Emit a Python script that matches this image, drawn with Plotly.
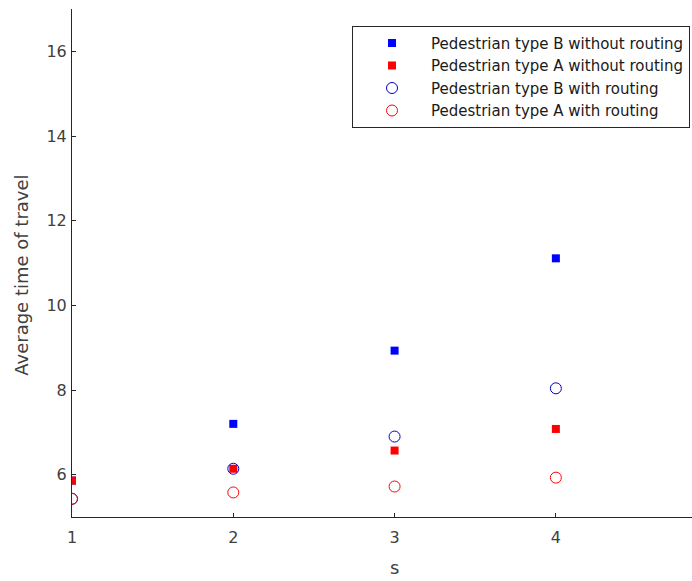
import plotly.graph_objects as go

s = [1, 2, 3, 4]
b_without = [5.86, 7.2, 8.93, 11.11]
a_without = [5.86, 6.14, 6.57, 7.08]
b_with = [5.43, 6.14, 6.90, 8.04]
a_with = [5.43, 5.58, 5.72, 5.93]

FONT = "DejaVu Sans, Liberation Sans, Arial, sans-serif"

fig = go.Figure()
fig.add_trace(go.Scatter(x=s, y=b_without, mode="markers", name="Pedestrian type B without routing",
                         marker=dict(symbol="square", size=8, color="#0000ff", line=dict(width=0))))
fig.add_trace(go.Scatter(x=s, y=a_without, mode="markers", name="Pedestrian type A without routing",
                         marker=dict(symbol="square", size=8, color="#ff0000", line=dict(width=0))))
fig.add_trace(go.Scatter(x=s, y=b_with, mode="markers", name="Pedestrian type B with routing",
                         marker=dict(symbol="circle-open", size=11, color="#0000cc", line=dict(width=1))))
fig.add_trace(go.Scatter(x=s, y=a_with, mode="markers", name="Pedestrian type A with routing",
                         marker=dict(symbol="circle-open", size=11, color="#ff0000", line=dict(width=1))))

fig.update_layout(
    width=692, height=581,
    margin=dict(l=72, r=0, t=9, b=63.5),
    plot_bgcolor="white", paper_bgcolor="white",
    font=dict(family=FONT, size=16, color="#404040"),
    showlegend=True,
    legend=dict(x=0.9968, y=0.967, xanchor="right", yanchor="top",
                bordercolor="#262626", borderwidth=1, bgcolor="white",
                font=dict(family=FONT, size=15, color="#1a1a1a"), tracegroupgap=0,
                itemwidth=68),
    xaxis=dict(range=[1, 4.844], tickvals=[1, 2, 3, 4], showline=True, linecolor="#262626",
               linewidth=1, ticks="inside", ticklen=4, tickcolor="#262626",
               showgrid=False, zeroline=False, automargin=False, ticklabelstandoff=6),
    yaxis=dict(range=[5, 17], tickvals=[6, 8, 10, 12, 14, 16], showline=True, linecolor="#262626",
               linewidth=1, ticks="inside", ticklen=4, tickcolor="#262626",
               showgrid=False, zeroline=False, automargin=False, ticklabelstandoff=1),
    annotations=[
        dict(text="s", xref="x", x=3, yref="paper", y=-0.0993, yanchor="middle",
             showarrow=False, font=dict(family=FONT, size=18, color="#404040")),
        dict(text="Average time of travel", xref="paper", x=-0.0806, yref="paper", y=0.475,
             xanchor="center", yanchor="middle", textangle=-90,
             showarrow=False, font=dict(family=FONT, size=18, color="#404040")),
    ],
)

fig.write_html("out.html", config={"displayModeBar": False},
               post_script="document.body.style.margin='0';document.body.style.overflow='hidden';")
